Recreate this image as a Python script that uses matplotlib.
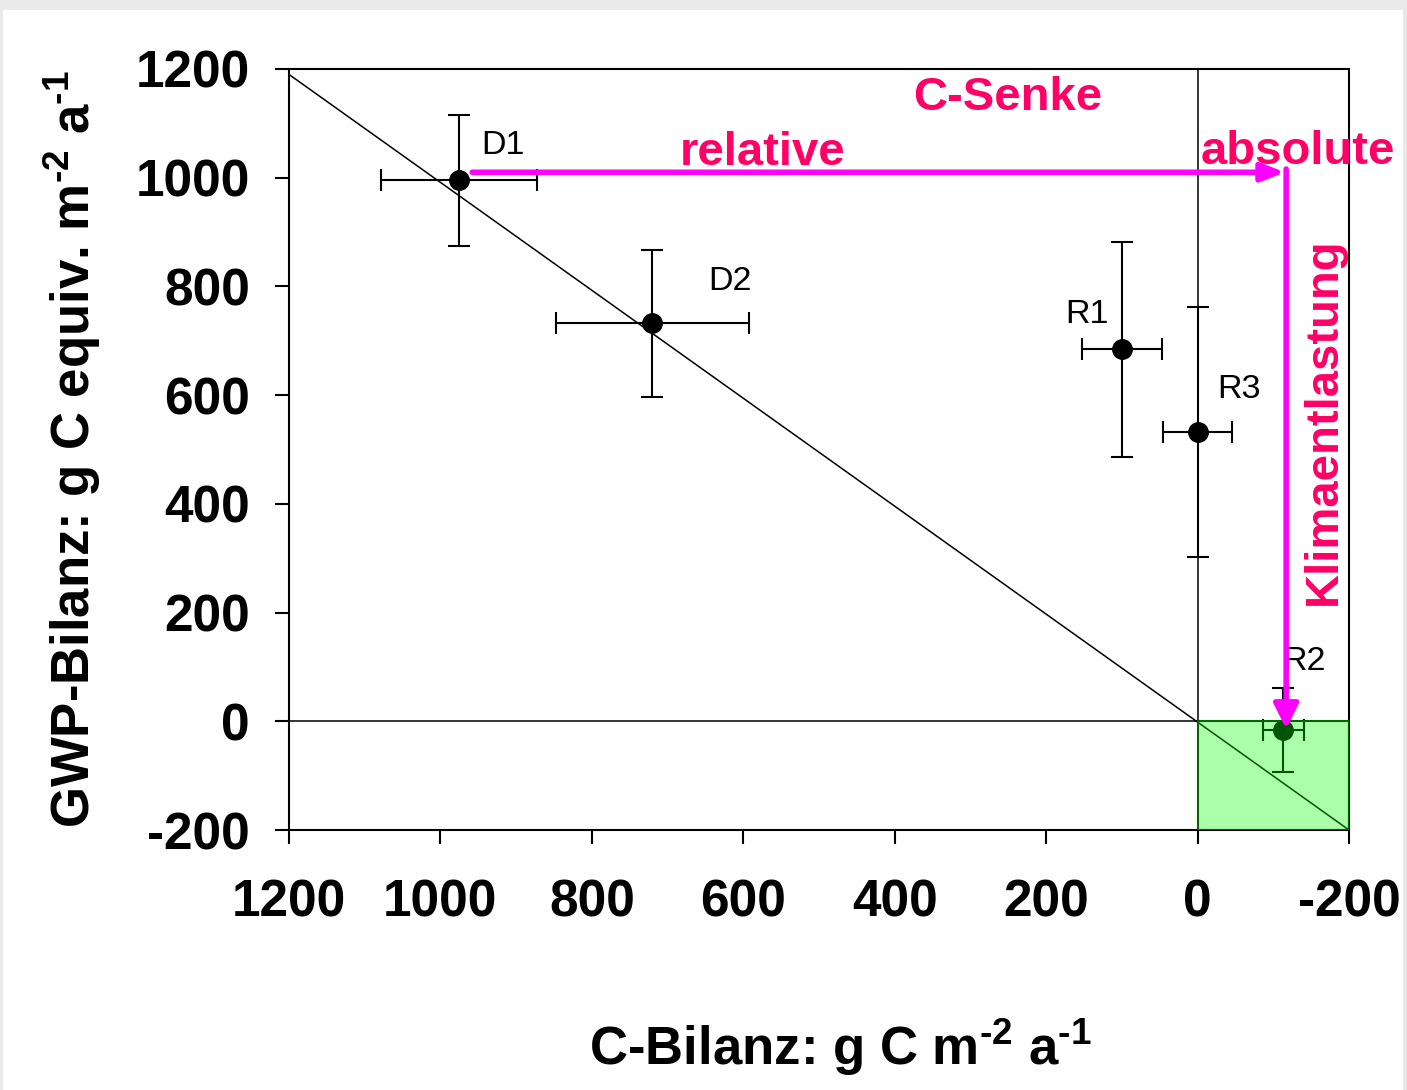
import matplotlib
matplotlib.use("Agg")
import matplotlib.pyplot as plt
from matplotlib.patches import Rectangle

# ---- data ----
names = ["D1", "D2", "R1", "R2", "R3"]
c_bilanz = [976, 720, 100, -113, 0]
gwp_bilanz = [995, 732, 684, -16, 532]
c_err = [103, 127, 53, 27, 46]
gwp_err = [120, 135, 197, 78, 230]

diag_x = [1200, -200]
diag_y = [1190, -200]

x_ticks = [1200, 1000, 800, 600, 400, 200, 0, -200]
y_ticks = [-200, 0, 200, 400, 600, 800, 1000, 1200]

# arrow path (data coords): relative -> absolute -> Klimaentlastung
arrow_h = ([958, -115], [1010, 1010])
arrow_v = ([-117, -117], [1016, -14])
sink_box = (0, -200, -200, 0)  # x0, x1, y0, y1

# ---- style ----
plt.rcParams["font.family"] = ["Liberation Sans", "DejaVu Sans"]
plt.rcParams["mathtext.fontset"] = "custom"
plt.rcParams["mathtext.rm"] = "Liberation Sans:bold"
plt.rcParams["mathtext.it"] = "Liberation Sans:bold"
plt.rcParams["mathtext.bf"] = "Liberation Sans:bold"
plt.rcParams["mathtext.default"] = "regular"
plt.rcParams["axes.unicode_minus"] = False

W, H = 1407, 1090
fig = plt.figure(figsize=(W / 100, H / 100), dpi=100)
fig.patch.set_facecolor("#e9e9e9")
fig.add_artist(Rectangle((3 / W, 0), 1400 / W, 1080 / H, transform=fig.transFigure,
                         facecolor="white", edgecolor="none", zorder=-10))

ax = fig.add_axes([289 / W, 1 - 830 / H, 1060 / W, 761 / H])
ax.set_xlim(1200, -200)
ax.set_ylim(-200, 1200)

ax.plot(diag_x, diag_y, color="black", lw=1.1, zorder=2)
ax.axhline(0, color="black", lw=1.1, zorder=2)
ax.axvline(0, color="black", lw=1.1, zorder=2)

ax.errorbar(c_bilanz, gwp_bilanz, xerr=c_err, yerr=gwp_err, fmt="o", color="black",
            ms=14, capsize=8, elinewidth=1.5, capthick=1.5, zorder=3)

ax.add_patch(Rectangle((sink_box[0], sink_box[2]), sink_box[1] - sink_box[0],
                       sink_box[3] - sink_box[2], facecolor=(0, 1, 0, 0.33),
                       edgecolor="#006600", lw=1.5, zorder=4))

label_off = {"D1": (32, 19), "D2": (56, 24), "R1": (-25, 19), "R3": (30, 24.5), "R2": (15, 43)}
for n, x, y in zip(names, c_bilanz, gwp_bilanz):
    ax.annotate(n, xy=(x, y), xytext=label_off[n], textcoords="offset points",
                ha="center", va="baseline", fontsize=24.5, color="black", zorder=5)

mag = "#ff00ff"
pink = "#ff0066"
ax.annotate("", xy=(arrow_h[0][1], arrow_h[1][1]), xytext=(arrow_h[0][0], arrow_h[1][0]),
            arrowprops=dict(arrowstyle="-|>,head_length=0.55,head_width=0.22", color=mag,
                            lw=4, mutation_scale=25, shrinkA=0, shrinkB=0), zorder=6)
ax.annotate("", xy=(arrow_v[0][1], arrow_v[1][1]), xytext=(arrow_v[0][0], arrow_v[1][0]),
            arrowprops=dict(arrowstyle="-|>,head_length=0.6,head_width=0.3", color=mag,
                            lw=4, mutation_scale=25, shrinkA=0, shrinkB=0), zorder=6)

tk = dict(color=pink, fontsize=34, fontweight="bold", zorder=7)
ax.text(251, 1124, "C-Senke", ha="center", va="baseline", **tk)
ax.text(575, 1023, "relative", ha="center", va="baseline", **tk)
ax.text(-133, 1025, "absolute", ha="center", va="baseline", clip_on=False, **tk)
ax.text(-183, 552, "Klimaentlastung", ha="center", va="baseline", rotation=90,
        rotation_mode="anchor", **tk)

ax.set_xticks(x_ticks)
ax.set_xticklabels([str(v) for v in x_ticks])
ax.set_yticks(y_ticks)
ax.set_yticklabels([str(v) for v in y_ticks])
ax.tick_params(axis="both", direction="out", length=10, width=1.5, labelsize=37)
ax.tick_params(axis="x", pad=25)
ax.tick_params(axis="y", pad=18)
for lab in ax.get_xticklabels() + ax.get_yticklabels():
    lab.set_fontweight("bold")
for s in ax.spines.values():
    s.set_linewidth(1.5)

hy = "\u2010"
ax.set_xlabel("C-Bilanz: g C m$^{" + hy + "2}$ a$^{" + hy + "1}$", fontsize=38, fontweight="bold")
ax.set_ylabel("GWP-Bilanz: g C equiv. m$^{" + hy + "2}$ a$^{" + hy + "1}$", fontsize=38,
              fontweight="bold")
ax.xaxis.set_label_coords(0.52, -0.245)
ax.yaxis.set_label_coords(-0.175, 0.5)

fig.savefig("out.png", dpi=100, facecolor=fig.get_facecolor())
